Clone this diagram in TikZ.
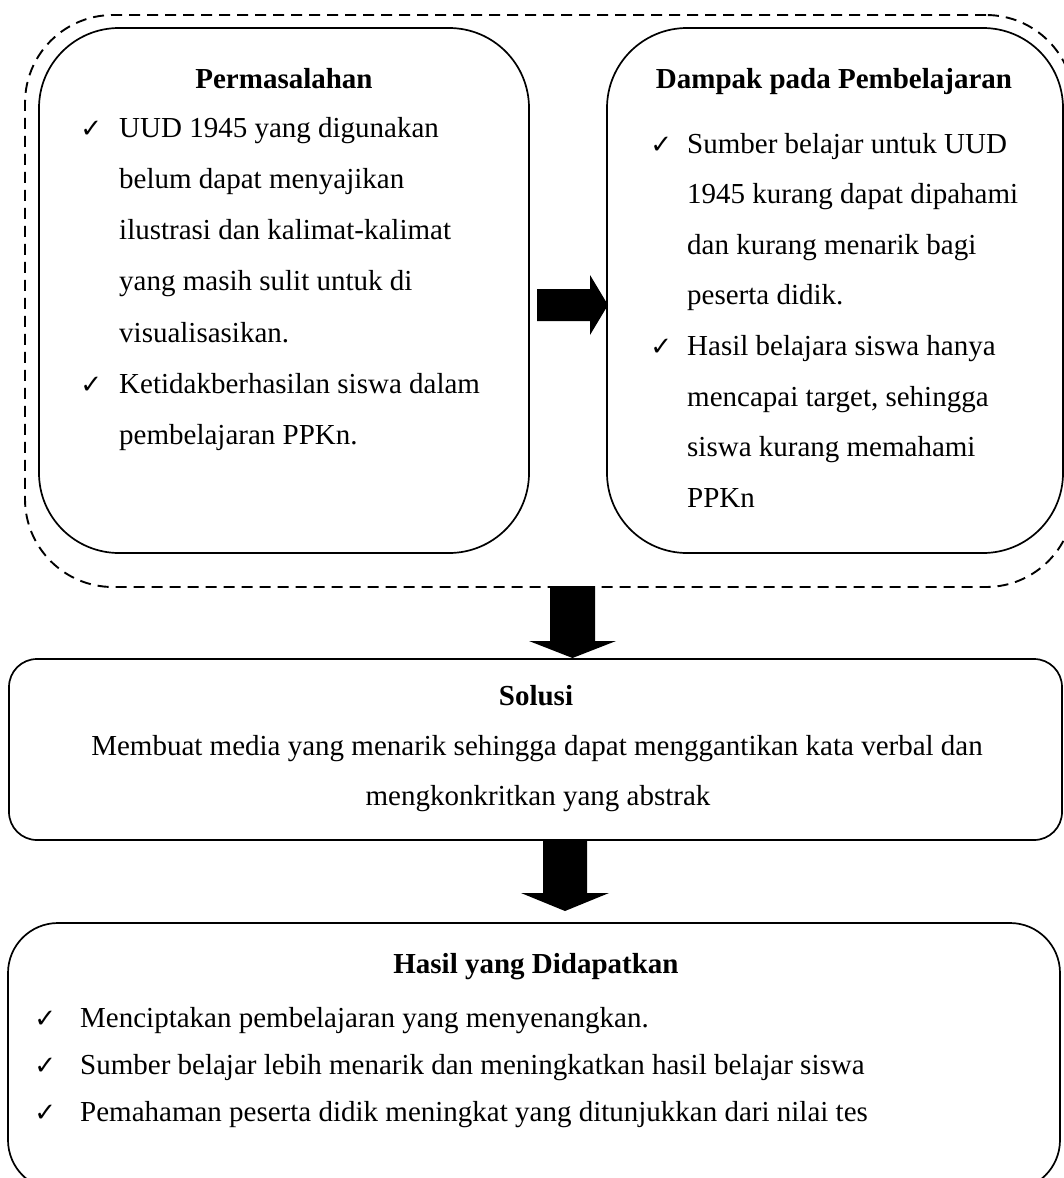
\documentclass[tikz,border=0pt]{standalone}
\usepackage{fontspec}
\setmainfont{Liberation Serif}
\newfontfamily\symfont{DejaVu Sans}
\newcommand{\chk}[1]{\llap{{\symfont\fontsize{26}{26}\selectfont ✓}\hspace{#1}}}
\tikzset{
  solidbox/.style={draw, line width=1.7pt, rectangle, inner sep=0pt, outer sep=0pt},
  dashbox/.style={draw, line width=1.9pt, dash pattern=on 11pt off 7pt, rectangle, inner sep=0pt},
  txt/.style={inner sep=0pt, anchor=base west, font=\fontsize{29}{29}\selectfont},
  ctxt/.style={inner sep=0pt, anchor=base, font=\fontsize{29}{29}\selectfont},
  ttl/.style={inner sep=0pt, anchor=base, font=\fontsize{29}{29}\selectfont\bfseries},
  blockarrow/.style={fill=black, draw=none}
}
\begin{document}
\begin{tikzpicture}[x=1pt, y=-1pt]
\useasboundingbox (0,0) rectangle (1064,1178);
\clip (0,0) rectangle (1064,1178);
% boxes
\node[dashbox, rounded corners=88pt, minimum width=1049pt, minimum height=572pt] (dash) at (549.5,301) {};
\node[solidbox, rounded corners=80pt, minimum width=490pt, minimum height=525pt] (perm) at (284,290.5) {};
\node[solidbox, rounded corners=80pt, minimum width=456pt, minimum height=525pt] (damp) at (835,290.5) {};
\node[solidbox, rounded corners=28pt, minimum width=1053pt, minimum height=181pt] (sol) at (535.5,749.5) {};
\node[solidbox, rounded corners=50pt, minimum width=1052pt, minimum height=267pt] (hasil) at (534,1056.5) {};
% block arrows
\fill[blockarrow] (537,289) -- (590,289) -- (590,275) -- (608,305) -- (590,335) -- (590,321) -- (537,321) -- cycle;
\fill[blockarrow] (550,586) -- (595,586) -- (595,641) -- (616,641) -- (572.5,658) -- (529,641) -- (550,641) -- cycle;
\fill[blockarrow] (543,840) -- (587,840) -- (587,893) -- (609,893) -- (565,911) -- (521,893) -- (543,893) -- cycle;
% Permasalahan
\node[ttl] (permT) at (284,88) {Permasalahan};
\node[txt] (p1) at (119,137) {\chk{17pt}UUD 1945 yang digunakan};
\node[txt] (p2) at (119,188.3) {belum dapat menyajikan};
\node[txt] (p3) at (119,239.6) {ilustrasi dan kalimat-kalimat};
\node[txt] (p4) at (119,290.9) {yang masih sulit untuk di};
\node[txt] (p5) at (119,342.2) {visualisasikan.};
\node[txt] (p6) at (119,393.5) {\chk{17pt}Ketidakberhasilan siswa dalam};
\node[txt] (p7) at (119,444.8) {pembelajaran PPKn.};
% Dampak
\node[ttl] (dampT) at (834,88) {Dampak pada Pembelajaran};
\node[txt] (d1) at (687,153) {\chk{15pt}Sumber belajar untuk UUD};
\node[txt] (d2) at (687,203.6) {1945 kurang dapat dipahami};
\node[txt] (d3) at (687,254.2) {dan kurang menarik bagi};
\node[txt] (d4) at (687,304.8) {peserta didik.};
\node[txt] (d5) at (687,355.4) {\chk{15pt}Hasil belajara siswa hanya};
\node[txt] (d6) at (687,406) {mencapai target, sehingga};
\node[txt] (d7) at (687,456.6) {siswa kurang memahami};
\node[txt] (d8) at (687,507.2) {PPKn};
% Solusi
\node[ttl] (solT) at (536,705) {Solusi};
\node[ctxt] (s1) at (537,755) {Membuat media yang menarik sehingga dapat menggantikan kata verbal dan};
\node[ctxt] (s2) at (538,805) {mengkonkritkan yang abstrak};
% Hasil
\node[ttl] (hasT) at (536,973) {Hasil yang Didapatkan};
\node[txt] (h1) at (80,1027) {\chk{24pt}Menciptakan pembelajaran yang menyenangkan.};
\node[txt] (h2) at (80,1074) {\chk{24pt}Sumber belajar lebih menarik dan meningkatkan hasil belajar siswa};
\node[txt] (h3) at (80,1121) {\chk{24pt}Pemahaman peserta didik meningkat yang ditunjukkan dari nilai tes};
\end{tikzpicture}
\end{document}
